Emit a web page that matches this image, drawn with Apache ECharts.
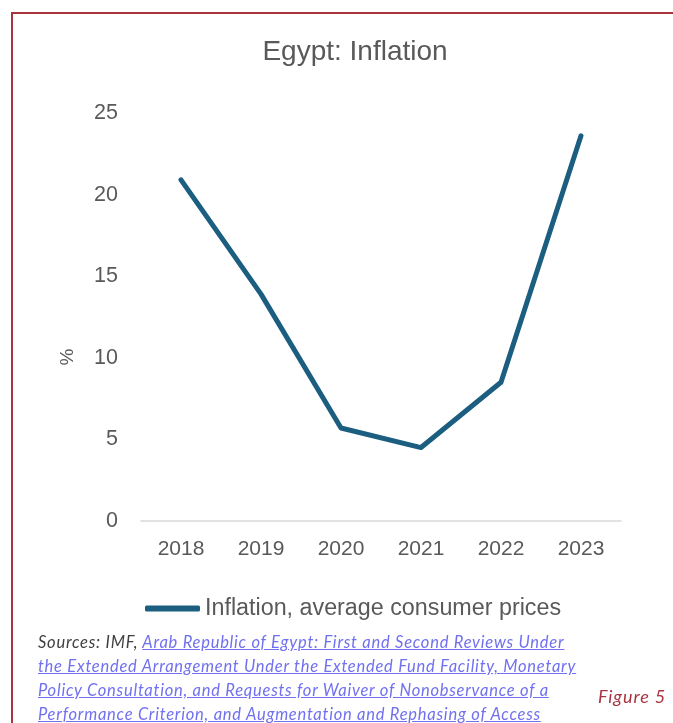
<!DOCTYPE html>
<html>
<head>
<meta charset="utf-8">
<script src="https://cdn.jsdelivr.net/npm/echarts@6/dist/echarts.min.js"></script>
<style>
  html, body { margin: 0; padding: 0; background: #fff; }
  #wrap { position: relative; width: 673px; height: 723px; overflow: hidden; }
  #frame { position: absolute; left: 11px; top: 12px; width: 700px; height: 760px;
           border-left: 2px solid #a93440; border-top: 2px solid #a93440; box-sizing: border-box; }
  #chart { position: absolute; left: 0; top: 0; width: 673px; height: 723px; }
  #note { position: absolute; left: 38px; top: 630px; font-family: Lato, "Open Sans", sans-serif;
          font-style: italic; font-size: 16.5px; letter-spacing: 0.75px; line-height: 24px;
          color: #404040; white-space: nowrap; }
  #note a { color: #7070f0; text-decoration: underline; text-decoration-color: #7070f0; }
  #fig { position: absolute; left: 598px; top: 685px; font-family: Lato, "Open Sans", sans-serif;
         font-style: italic; font-size: 18px; letter-spacing: 0.9px; color: #a93440; white-space: nowrap; }
</style>
</head>
<body>
<div id="wrap">
  <div id="frame"></div>
  <div id="chart"></div>
  <div id="note">
    Sources: IMF, <a>Arab Republic of Egypt: First and Second Reviews Under </a><br>
    <a>the Extended Arrangement Under the Extended Fund Facility, Monetary </a><br>
    <a>Policy Consultation, and Requests for Waiver of Nonobservance of a </a><br>
    <a>Performance Criterion, and Augmentation and Rephasing of Access</a>
  </div>
  <div id="fig">Figure 5</div>
</div>
<script>
// Egypt average consumer price inflation, fiscal years
const years = ['2018', '2019', '2020', '2021', '2022', '2023'];
const inflation = [20.9, 13.9, 5.7, 4.5, 8.5, 23.6];
const seriesName = 'Inflation, average consumer prices';
const yUnit = '%';

const FONT = 'Liberation Sans, Arial, sans-serif';
const GREY = '#595959';

const chart = echarts.init(document.getElementById('chart'), null, { renderer: 'canvas' });
chart.setOption({
  animation: false,
  title: {
    text: 'Egypt: Inflation',
    left: 350, top: 33, textAlign: 'center',
    textStyle: { fontFamily: FONT, fontSize: 28, fontWeight: 'normal', color: GREY }
  },
  grid: { left: 141, right: 52, top: 113, bottom: 202, containLabel: false },
  legend: {
    data: [seriesName],
    left: 145, top: 597,
    padding: 0,
    icon: 'roundRect',
    itemWidth: 55, itemHeight: 6,
    textStyle: { fontFamily: FONT, fontSize: 23.3, color: GREY }
  },
  // rotated unit label beside the value axis
  graphic: [{
    type: 'text',
    x: 68, y: 357,
    rotation: Math.PI / 2,
    style: { text: yUnit, font: '19px ' + FONT, fill: GREY, align: 'center', verticalAlign: 'middle' }
  }],
  xAxis: {
    type: 'category',
    data: years,
    boundaryGap: true,
    axisLine: { lineStyle: { color: '#d9d9d9', width: 1.5 } },
    axisTick: { show: false },
    axisLabel: { fontFamily: FONT, fontSize: 21, color: GREY, margin: 18 }
  },
  yAxis: {
    type: 'value',
    min: 0, max: 25, interval: 5,
    axisLine: { show: false },
    axisTick: { show: false },
    splitLine: { show: false },
    axisLabel: { fontFamily: FONT, fontSize: 21.5, color: GREY, margin: 23, padding: [0, 0, 5, 0] }
  },
  series: [{
    name: seriesName,
    type: 'line',
    data: inflation,
    showSymbol: false,
    symbol: 'none',
    lineStyle: { color: '#1b5e80', width: 5, cap: 'round', join: 'round' },
    itemStyle: { color: '#1b5e80' }
  }]
});
</script>
</body>
</html>
